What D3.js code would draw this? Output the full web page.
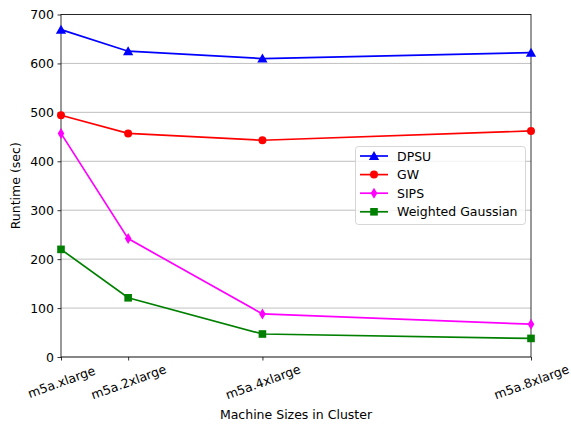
<!DOCTYPE html>
<html><head><meta charset="utf-8">
<script src="https://cdn.jsdelivr.net/npm/d3@7"></script>
<style>body{margin:0;background:#fff}svg{display:block}text{font-family:"DejaVu Sans",sans-serif}</style>
</head><body><svg id="c" width="571" height="424"></svg>
<script>
const categories = ["m5a.xlarge","m5a.2xlarge","m5a.4xlarge","m5a.8xlarge"];
const vcpus = [4, 8, 16, 32];
const seriesNames = ["DPSU","GW","SIPS","Weighted Gaussian"];
const dpsu = [669, 625, 610, 622];
const gw = [494, 457, 443, 462];
const sips = [457, 242, 88, 67];
const wg = [220, 121, 47, 38];
const yTicks = [0,100,200,300,400,500,600,700];
const colors = ["#0000ff","#ff0000","#ff00ff","#008000"];
const markers = ["triangle","circle","diamond","square"];
const seriesVals = [dpsu, gw, sips, wg];

const svg = d3.select("#c");
const L=61, R=531, T=14.5, B=357;
const x = d3.scaleLinear().domain([4,32]).range([L,R]);
const y = d3.scaleLinear().domain([0,700]).range([B,T]);
const fs = "12.5px";

// grid
svg.append("g").selectAll("line").data(yTicks).join("line")
  .attr("x1",L).attr("x2",R).attr("y1",d=>y(d)).attr("y2",d=>y(d))
  .attr("stroke","#b0b0b0").attr("stroke-width",0.8);

// axes
const yAxis = svg.append("g").attr("transform",`translate(${L},0)`)
  .call(d3.axisLeft(y).tickValues(yTicks).tickSize(3.5).tickPadding(3.5));
const xAxis = svg.append("g").attr("transform",`translate(0,${B})`)
  .call(d3.axisBottom(x).tickValues(vcpus).tickFormat((d,i)=>categories[i]).tickSize(3.5).tickPadding(3.5));
[yAxis,xAxis].forEach(g=>{g.select(".domain").remove();g.selectAll("line").attr("stroke","#000").attr("stroke-width",0.8);
  g.selectAll("text").attr("font-size",fs).attr("fill","#000").attr("font-family","DejaVu Sans");});
xAxis.selectAll("text").attr("text-anchor","middle").attr("y",0).attr("dy","0.35em")
  .attr("transform","translate(0,25) rotate(-20)");

// frame
svg.append("rect").attr("x",L).attr("y",T).attr("width",R-L).attr("height",B-T)
  .attr("fill","none").attr("stroke","#000").attr("stroke-width",0.8);

function sym(m){
  if(m==="triangle") return d3.symbol().type(d3.symbolTriangle).size(46)();
  if(m==="circle") return d3.symbol().type(d3.symbolCircle).size(50)();
  if(m==="diamond") return "M0,-5.5L3.3,0L0,5.5L-3.3,0Z";
  return d3.symbol().type(d3.symbolSquare).size(58)();
}
const line = d3.line().x((d,i)=>x(vcpus[i])).y(d=>y(d));
const plot = svg.append("g");
seriesVals.forEach((vals,k)=>{
  const g = plot.append("g");
  g.append("path").attr("d",line(vals)).attr("fill","none").attr("stroke",colors[k]).attr("stroke-width",1.7);
  g.selectAll("path.m").data(vals).join("path").attr("class","m")
    .attr("transform",(d,i)=>`translate(${x(vcpus[i])},${y(d)+(markers[k]==="triangle"?1:0)})`)
    .attr("d",sym(markers[k])).attr("fill",colors[k]);
});

// legend
const lg = svg.append("g");
lg.append("rect").attr("x",355.5).attr("y",146.5).attr("width",170).attr("height",78).attr("rx",3)
  .attr("fill","#fff").attr("fill-opacity",0.8).attr("stroke","#cccccc").attr("stroke-width",0.8);
seriesNames.forEach((n,k)=>{
  const cy = 156 + k*18.6;
  lg.append("line").attr("x1",360).attr("x2",388).attr("y1",cy).attr("y2",cy).attr("stroke",colors[k]).attr("stroke-width",1.7);
  lg.append("path").attr("transform",`translate(374,${cy+(markers[k]==="triangle"?1:0)})`).attr("d",sym(markers[k])).attr("fill",colors[k]);
  lg.append("text").attr("x",397).attr("y",cy+4.5).attr("font-size",fs).text(n);
});

// axis labels
svg.append("text").attr("x",(L+R)/2).attr("y",419).attr("text-anchor","middle").attr("font-size",fs).text("Machine Sizes in Cluster");
svg.append("text").attr("transform",`translate(20,${(T+B)/2}) rotate(-90)`).attr("text-anchor","middle").attr("font-size",fs).text("Runtime (sec)");
</script></body></html>
